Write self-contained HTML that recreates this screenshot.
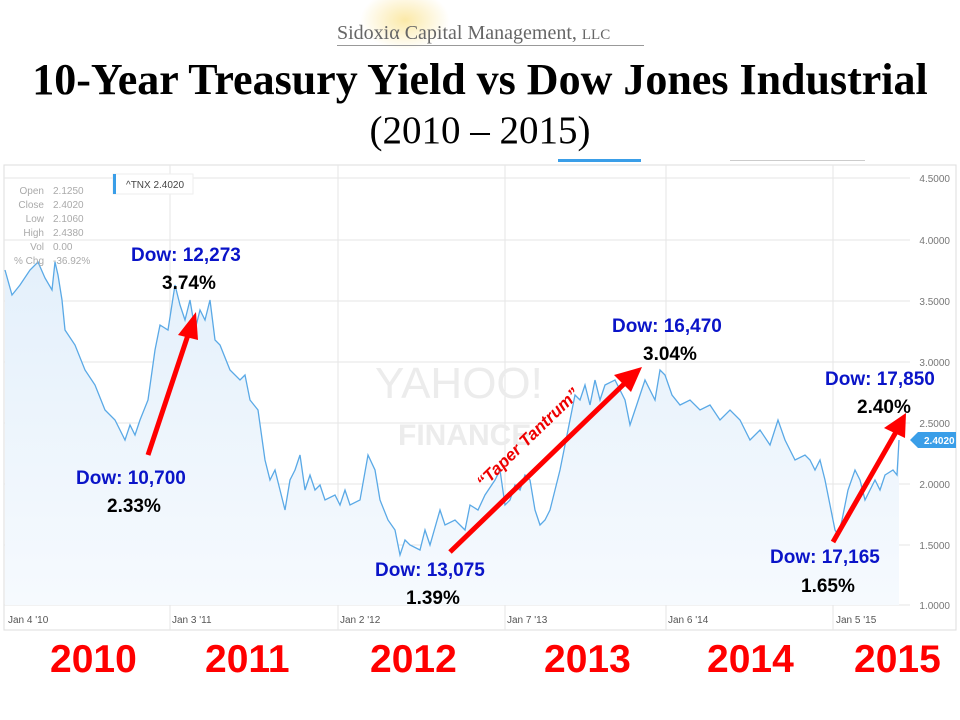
<!DOCTYPE html><html><head><style>
body{margin:0;width:960px;height:720px;background:#fff;overflow:hidden;position:relative;font-family:"Liberation Sans",sans-serif}
.t{position:absolute;white-space:nowrap}
.d{color:#0a14c8;font-weight:bold;font-size:19px}
.p{color:#000;font-weight:bold;font-size:19px}
.y{color:#f00;font-weight:bold;font-size:39px;top:638px}
</style></head><body>
<div class="t" style="left:0;width:960px;top:0;height:50px;">
<div style="position:absolute;left:360px;top:-10px;width:90px;height:60px;border-radius:50%;background:radial-gradient(#fbe9a8,#fff 70%)"></div></div>
<div class="t" style="left:337px;top:22px;font-family:'Liberation Serif',serif;font-size:20px;color:#666">Sidoxiα Capital Management, <span style="font-size:15px">LLC</span></div>
<div style="position:absolute;left:337px;top:45px;width:307px;height:1px;background:#999"></div>
<div class="t" style="left:0;width:960px;text-align:center;top:54px;font-family:'Liberation Serif',serif;font-weight:bold;font-size:44px">10-Year Treasury Yield vs Dow Jones Industrial</div>
<div class="t" style="left:0;width:960px;text-align:center;top:108px;font-family:'Liberation Serif',serif;font-size:39px">(2010 – 2015)</div>
<div style="position:absolute;left:558px;top:159px;width:83px;height:3px;background:#3a9ee8"></div>
<div style="position:absolute;left:730px;top:160px;width:135px;height:1px;background:#ccc"></div>
<svg style="position:absolute;left:0;top:0" width="960" height="720">
<defs><linearGradient id="g" x1="0" y1="0" x2="0" y2="1"><stop offset="0" stop-color="#e4f0fb"/><stop offset="1" stop-color="#f6fafe"/></linearGradient></defs>
<rect x="4" y="165" width="952" height="465" fill="none" stroke="#ddd"/>
<g stroke="#e6e6e6" stroke-width="1">
<line x1="4" y1="178" x2="910" y2="178"/><line x1="4" y1="240" x2="910" y2="240"/><line x1="4" y1="301" x2="910" y2="301"/><line x1="4" y1="362" x2="910" y2="362"/><line x1="4" y1="423" x2="910" y2="423"/><line x1="4" y1="484" x2="910" y2="484"/><line x1="4" y1="545" x2="910" y2="545"/><line x1="4" y1="605" x2="910" y2="605"/>
<line x1="170" y1="165" x2="170" y2="630"/><line x1="338" y1="165" x2="338" y2="630"/><line x1="505" y1="165" x2="505" y2="630"/><line x1="666" y1="165" x2="666" y2="630"/><line x1="833" y1="165" x2="833" y2="630"/>
</g>
<polygon fill="url(#g)" points="5,605 5,270 12,295 20,285 30,270 38,262 45,278 52,290 55,262 58,275 62,300 65,330 75,345 85,370 95,385 105,410 115,420 125,440 130,425 135,435 140,420 148,400 155,350 160,325 168,330 175,285 180,305 185,320 190,300 195,330 200,310 205,320 210,300 215,340 220,345 230,370 240,380 245,375 250,400 258,410 265,460 270,480 275,470 280,490 285,510 290,480 295,470 300,455 305,490 310,475 315,490 320,485 325,500 335,495 340,505 345,490 350,505 360,500 368,455 375,470 380,500 388,520 395,530 400,555 405,540 410,545 420,550 425,530 430,545 440,510 445,525 455,520 465,530 470,505 478,510 485,495 495,480 500,470 505,505 510,500 515,485 520,490 525,475 530,480 535,510 540,525 545,520 550,510 555,490 560,470 565,445 570,420 575,395 580,400 585,385 590,405 595,380 600,400 605,385 615,380 625,400 630,425 635,410 640,395 645,380 655,400 660,370 665,375 672,395 680,405 690,400 700,410 710,405 720,420 730,410 740,420 750,440 760,430 770,445 778,420 785,440 795,460 805,455 810,460 815,470 820,460 825,480 830,505 835,530 838,535 842,520 848,490 855,470 860,480 865,500 870,490 875,480 880,490 885,475 893,470 897,475 899,440 899,605"/>
<polyline fill="none" stroke="#5aa9e6" stroke-width="1.3" points="5,270 12,295 20,285 30,270 38,262 45,278 52,290 55,262 58,275 62,300 65,330 75,345 85,370 95,385 105,410 115,420 125,440 130,425 135,435 140,420 148,400 155,350 160,325 168,330 175,285 180,305 185,320 190,300 195,330 200,310 205,320 210,300 215,340 220,345 230,370 240,380 245,375 250,400 258,410 265,460 270,480 275,470 280,490 285,510 290,480 295,470 300,455 305,490 310,475 315,490 320,485 325,500 335,495 340,505 345,490 350,505 360,500 368,455 375,470 380,500 388,520 395,530 400,555 405,540 410,545 420,550 425,530 430,545 440,510 445,525 455,520 465,530 470,505 478,510 485,495 495,480 500,470 505,505 510,500 515,485 520,490 525,475 530,480 535,510 540,525 545,520 550,510 555,490 560,470 565,445 570,420 575,395 580,400 585,385 590,405 595,380 600,400 605,385 615,380 625,400 630,425 635,410 640,395 645,380 655,400 660,370 665,375 672,395 680,405 690,400 700,410 710,405 720,420 730,410 740,420 750,440 760,430 770,445 778,420 785,440 795,460 805,455 810,460 815,470 820,460 825,480 830,505 835,530 838,535 842,520 848,490 855,470 860,480 865,500 870,490 875,480 880,490 885,475 893,470 897,475 899,440"/>
<text x="375" y="398" font-size="44" fill="#ececec" font-family="Liberation Sans">YAHOO!</text>
<text x="398" y="445" font-size="30" fill="#ececec" font-weight="bold" font-family="Liberation Sans">FINANCE</text>
<g font-size="10" fill="#777" text-anchor="end" font-family="Liberation Sans">
<text x="950" y="182">4.5000</text><text x="950" y="244">4.0000</text><text x="950" y="305">3.5000</text><text x="950" y="366">3.0000</text><text x="950" y="427">2.5000</text><text x="950" y="488">2.0000</text><text x="950" y="549">1.5000</text><text x="950" y="609">1.0000</text></g>
<polygon points="910,440 918,432 956,432 956,448 918,448" fill="#3a9ee8"/>
<text x="924" y="444" font-size="10" fill="#fff" font-weight="bold" font-family="Liberation Sans">2.4020</text>
<g font-size="10" fill="#555" font-family="Liberation Sans"><text x="8" y="623">Jan 4 '10</text><text x="172" y="623">Jan 3 '11</text><text x="340" y="623">Jan 2 '12</text><text x="507" y="623">Jan 7 '13</text><text x="668" y="623">Jan 6 '14</text><text x="836" y="623">Jan 5 '15</text></g>
<rect x="113" y="174" width="80" height="20" fill="#fff" stroke="#eee"/><rect x="113" y="174" width="3" height="20" fill="#3a9ee8"/>
<text x="126" y="188" font-size="10" fill="#444" font-family="Liberation Sans">^TNX 2.4020</text>
<g font-size="10" fill="#aaa" font-family="Liberation Sans"><g text-anchor="end"><text x="44" y="194">Open</text><text x="44" y="208">Close</text><text x="44" y="222">Low</text><text x="44" y="236">High</text><text x="44" y="250">Vol</text><text x="44" y="264">% Chg</text></g>
<text x="53" y="194">2.1250</text><text x="53" y="208">2.4020</text><text x="53" y="222">2.1060</text><text x="53" y="236">2.4380</text><text x="53" y="250">0.00</text><text x="53" y="264">-36.92%</text></g>
<g stroke="#f00" stroke-width="5" fill="#f00">
<line x1="148" y1="455" x2="188" y2="335"/><polygon stroke="none" points="196,312 178,335 198,340"/>
<line x1="450" y1="552" x2="625" y2="383"/><polygon stroke="none" points="642,367 614,375 631,392"/>
<line x1="833" y1="542" x2="896" y2="432"/><polygon stroke="none" points="906,413 884,428 905,438"/>
</g>
<text transform="translate(532,442) rotate(-44)" text-anchor="middle" font-size="17" font-weight="bold" font-style="italic" fill="#e00" font-family="Liberation Sans">“Taper Tantrum”</text>
</svg>
<div class="t d" style="left:131px;top:245px">Dow: 12,273</div><div class="t p" style="left:162px;top:273px">3.74%</div>
<div class="t d" style="left:76px;top:468px">Dow: 10,700</div><div class="t p" style="left:107px;top:496px">2.33%</div>
<div class="t d" style="left:375px;top:560px">Dow: 13,075</div><div class="t p" style="left:406px;top:588px">1.39%</div>
<div class="t d" style="left:612px;top:316px">Dow: 16,470</div><div class="t p" style="left:643px;top:344px">3.04%</div>
<div class="t d" style="left:825px;top:369px">Dow: 17,850</div><div class="t p" style="left:857px;top:397px">2.40%</div>
<div class="t d" style="left:770px;top:547px">Dow: 17,165</div><div class="t p" style="left:801px;top:576px">1.65%</div>
<div class="t y" style="left:50px">2010</div><div class="t y" style="left:205px">2011</div><div class="t y" style="left:370px">2012</div><div class="t y" style="left:544px">2013</div><div class="t y" style="left:707px">2014</div><div class="t y" style="left:854px">2015</div>
</body></html>
